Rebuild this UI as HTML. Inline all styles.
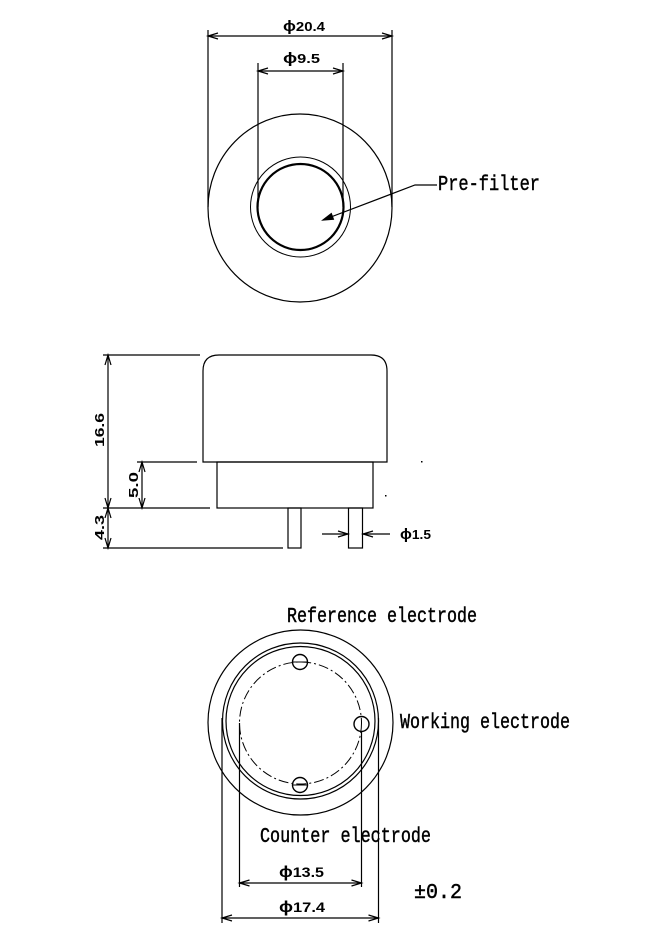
<!DOCTYPE html>
<html><head><meta charset="utf-8"><style>
html,body{margin:0;padding:0;background:#fff;}
svg{display:block;}
.t{font-family:"Liberation Mono",monospace;font-size:21px;fill:#000;stroke:#000;stroke-width:0.45;}
.d{font-family:"Liberation Sans",sans-serif;font-weight:bold;font-size:13px;fill:#000;}
</style></head><body>
<svg width="670" height="939" viewBox="0 0 670 939" xmlns="http://www.w3.org/2000/svg">
<g fill="none" stroke="#000" stroke-width="1.2">
<!-- TOP VIEW -->
<ellipse cx="300" cy="208" rx="92" ry="94"/>
<circle cx="300.5" cy="207" r="50" stroke-width="1"/>
<circle cx="300.5" cy="207" r="43" stroke-width="2.2"/>
<line x1="208" y1="30" x2="208" y2="207"/>
<line x1="392" y1="30" x2="392" y2="207"/>
<line x1="258" y1="63" x2="258" y2="207"/>
<line x1="343" y1="63" x2="343" y2="207"/>
<line x1="208" y1="36" x2="392" y2="36"/>
<polyline points="218,33 208,36 218,39"/>
<polyline points="382,33 392,36 382,39"/>
<line x1="258" y1="71" x2="343" y2="71"/>
<polyline points="268,68 258,71 268,74"/>
<polyline points="333,68 343,71 333,74"/>
<polyline points="437,185 415,185 323,220"/>
<polygon points="323,220 333.4,219.2 331.3,213.6" fill="#000"/>

<!-- SIDE VIEW -->
<path d="M203,462 L203,371 Q203,355 219,355 L371,355 Q387,355 387,371 L387,462 Z"/>
<rect x="217" y="462" width="156" height="46"/>
<rect x="288" y="508" width="13" height="40"/>
<rect x="348.5" y="508" width="14" height="40"/>
<line x1="103" y1="355" x2="200" y2="355"/>
<line x1="137" y1="462" x2="197" y2="462"/>
<line x1="103" y1="508" x2="210" y2="508"/>
<line x1="103" y1="548" x2="283" y2="548"/>
<line x1="108" y1="355" x2="108" y2="548"/>
<polyline points="105,365 108,355 111,365"/>
<polyline points="105,498 108,508 111,498"/>
<polyline points="105,518 108,508 111,518"/>
<polyline points="105,538 108,548 111,538"/>
<line x1="142" y1="462" x2="142" y2="508"/>
<polyline points="139,472 142,462 145,472"/>
<polyline points="139,498 142,508 145,498"/>
<line x1="322" y1="534" x2="348" y2="534"/>
<polyline points="338,531 348,534 338,537"/>
<line x1="363" y1="534" x2="390" y2="534"/>
<polyline points="373,531 363,534 373,537"/>

<!-- BOTTOM VIEW -->
<circle cx="300.5" cy="722.5" r="92.5"/>
<circle cx="300.5" cy="721" r="78"/>
<circle cx="300.5" cy="721" r="74.5"/>
<circle cx="300.5" cy="723" r="61" stroke-width="1" stroke-dasharray="10 3 2 3"/>
<circle cx="300" cy="662" r="7.5" stroke-width="1.4"/>
<line x1="292.5" y1="662" x2="307.5" y2="662" stroke-width="1"/>
<circle cx="361.5" cy="724" r="7.5" stroke-width="1.4"/>
<circle cx="300" cy="785" r="7.5" stroke-width="1.4"/>
<line x1="292.5" y1="785" x2="307.5" y2="785" stroke-width="1"/>
<line x1="222" y1="718" x2="222" y2="923"/>
<line x1="378.5" y1="718" x2="378.5" y2="923"/>
<line x1="239.5" y1="723" x2="239.5" y2="887"/>
<line x1="361.5" y1="731" x2="361.5" y2="887"/>
<line x1="239.5" y1="883" x2="361.5" y2="883"/>
<polyline points="249.5,880 239.5,883 249.5,886"/>
<polyline points="351.5,880 361.5,883 351.5,886"/>
<line x1="222" y1="918" x2="378.5" y2="918"/>
<polyline points="232,915 222,918 232,921"/>
<polyline points="368.5,915 378.5,918 368.5,921"/>
</g>
<rect x="421" y="461" width="1.5" height="1.5" fill="#000"/>
<rect x="385" y="495" width="1.5" height="1.5" fill="#000"/>

<!-- labels -->
<text class="d" x="283" y="31" textLength="42" lengthAdjust="spacingAndGlyphs"><tspan style="font-size:15px">ϕ</tspan>20.4</text>
<text class="d" x="283" y="63" textLength="37" lengthAdjust="spacingAndGlyphs"><tspan style="font-size:15px">ϕ</tspan>9.5</text>
<text class="t" x="438" y="190" textLength="102" lengthAdjust="spacingAndGlyphs">Pre-filter</text>
<text class="d" transform="translate(104,447) rotate(-90)" x="0" y="0" textLength="34" lengthAdjust="spacingAndGlyphs">16.6</text>
<text class="d" transform="translate(138,498) rotate(-90)" x="0" y="0" textLength="26" lengthAdjust="spacingAndGlyphs">5.0</text>
<text class="d" transform="translate(104,540) rotate(-90)" x="0" y="0" textLength="25" lengthAdjust="spacingAndGlyphs">4.3</text>
<text class="d" x="400" y="539" textLength="31" lengthAdjust="spacingAndGlyphs"><tspan style="font-size:15px">ϕ</tspan>1.5</text>
<text class="t" x="287" y="622" textLength="190" lengthAdjust="spacingAndGlyphs">Reference electrode</text>
<text class="t" x="400" y="728" textLength="170" lengthAdjust="spacingAndGlyphs">Working electrode</text>
<text class="t" x="260" y="842" textLength="171" lengthAdjust="spacingAndGlyphs">Counter electrode</text>
<text class="d" style="font-size:14px" x="279" y="877" textLength="45" lengthAdjust="spacingAndGlyphs"><tspan style="font-size:16px">ϕ</tspan>13.5</text>
<text class="d" style="font-size:14px" x="279" y="912" textLength="46" lengthAdjust="spacingAndGlyphs"><tspan style="font-size:16px">ϕ</tspan>17.4</text>
<text class="t" x="414" y="898" textLength="48" lengthAdjust="spacingAndGlyphs">±0.2</text>
</svg>
</body></html>
